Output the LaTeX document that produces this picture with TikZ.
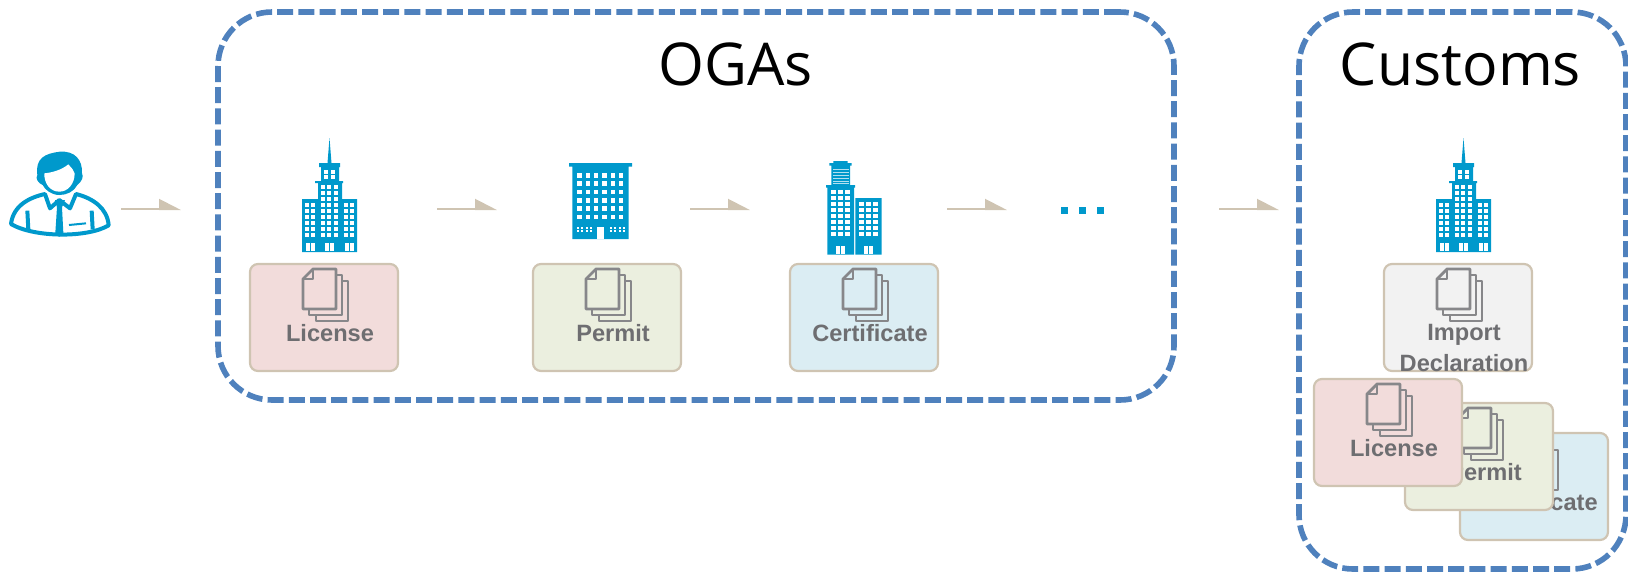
\documentclass[tikz,border=0pt]{standalone}
\usepackage{fontspec}
\usepackage{xcolor}
\usepackage{tikz}
\usetikzlibrary{arrows.meta}
\newfontfamily\titlefont{Open Sans}
\newfontfamily\cardfont{Liberation Sans}
\definecolor{groupblue}{HTML}{4F81BD}
\definecolor{iconblue}{HTML}{0099CC}
\definecolor{flowtan}{HTML}{CFC4B2}
\definecolor{docgray}{HTML}{87878A}
\definecolor{cardtextgray}{HTML}{6E6E71}
\definecolor{licensefill}{HTML}{F2DCDB}
\definecolor{permitfill}{HTML}{EBEFDF}
\definecolor{certfill}{HTML}{DBEDF3}
\definecolor{importfill}{HTML}{F2F2F2}
\tikzset{
  x=0.5pt,y=-0.5pt,
  groupbox/.style={draw=groupblue,line width=2.8pt,rounded corners=27pt,dash pattern=on 8pt off 2.6pt,outer sep=0pt,inner sep=0pt},
  grouptitle/.style={anchor=base,inner sep=0pt,font=\titlefont\fontsize{29.5}{29.5}\selectfont},
  cardbox/.style={draw=flowtan,line width=1.1pt,rounded corners=4pt,minimum width=74pt,minimum height=53.5pt,outer sep=0pt,inner sep=0pt},
  cardlabel/.style={align=center,inner sep=0pt,text=cardtextgray,font=\cardfont\bfseries\fontsize{11.8}{15.2}\selectfont},
  docline/.style={draw=docgray,line width=1.4pt,line join=round},
  flowline/.style={draw=flowtan,line width=1pt,-{Triangle[left,length=10pt 0 0,width=10pt 0 0,fill=flowtan]}},
  tower/.pic={
    \fill[iconblue] (25.5,25) -- (27.5,0) -- (29.5,25) -- cycle;
    \fill[iconblue] (17,25) rectangle (38,29) (19,29) rectangle (37,43) (13,43) rectangle (41,45)
      (16,45) rectangle (40,61) (0,61) rectangle (55,114);
    \foreach \wx in {24,30.7} \foreach \wy in {33.7,39.3} \fill[white] (\wx-2,\wy-2) rectangle ++(4,4);
    \foreach \wx in {20.7,27.3,33.7} \foreach \wy in {48.7,54.7,60.7} \fill[white] (\wx-2,\wy-2) rectangle ++(4,4);
    \foreach \wx in {4.7,10.7,20.7,27.3,33.7,43.7,50} \foreach \wy in {67,73,79,85,91,97} \fill[white] (\wx-2,\wy-2) rectangle ++(4,4);
    \foreach \wx in {4,23,43} {
      \fill[white] (\wx,105) rectangle ++(3.5,8);
      \fill[white] (\wx+5,105) rectangle ++(3.5,8);
    }
  },
  blockhouse/.pic={
    \fill[iconblue] (0,0) rectangle (63,3.5) (3.3,3.5) rectangle (59.7,76);
    \foreach \wx in {10.3,19,27,35.7,44,52} \foreach \wy in {12.3,20.7,29,37.3,45.7,54} \fill[white] (\wx-2.3,\wy-2.3) rectangle ++(4.6,4.6);
    \foreach \wx in {9,12.5,18,21.5,42,45.5,51,54.5} \foreach \wy in {64.7,68} \fill[white] (\wx-1,\wy-1) rectangle ++(2,2);
    \fill[white] (27.7,64) rectangle (35,75.5);
  },
  twintower/.pic={
    \fill[iconblue] (7.3,0) rectangle (21.7,2) (3.3,2) rectangle (25.7,4.5) (5.3,4.5) rectangle (24,24)
      (0,24) rectangle (29,26.5) (1.3,26.5) rectangle (28,93.5) (29.3,37) rectangle (55.7,93.5);
    \foreach \wy in {7.5,10.5,13.5,16.5,19.5,22} \fill[white!70!iconblue] (7,\wy) rectangle (22.5,\wy+1);
    \foreach \wx in {7.3,14.3,21.3} \foreach \wy in {31,36.7,42.7,48.7,54.7,60.7,66.7,72.7} \fill[white] (\wx-2.3,\wy-2) rectangle ++(4.6,4);
    \foreach \wx in {35.7,42.7,49.7} \foreach \wy in {42.7,48.7,54.7,60.7,66.7,72.7} \fill[white] (\wx-2.3,\wy-2) rectangle ++(4.6,4);
    \foreach \wx in {10,38} {
      \fill[white] (\wx,84.5) rectangle ++(4,8);
      \fill[white] (\wx+5,84.5) rectangle ++(4,8);
    }
  },
}
\newcommand{\doccard}[5]{
  \node[cardbox,fill=#4] (#1) at (#2+74,#3+53.5) {};
  \begin{scope}[shift={(#1.north west)}]
    \draw[docline,fill=#4] (66,17) rectangle (98,57);
    \draw[docline,fill=#4] (59,11) rectangle (92,51);
    \draw[docline,fill=#4] (53,15) -- (63,5) -- (86,5) -- (86,45) -- (53,45) -- cycle;
    \draw[docline] (63,5) -- (63,15) -- (53,15);
    \node[cardlabel,anchor=north] (#1text) at (80,60) {#5};
  \end{scope}
}

\begin{document}
\begin{tikzpicture}
\useasboundingbox (0,0) rectangle (1628,574);
% groups
\node[groupbox,minimum width=478pt,minimum height=194pt] (ogas) at (696,206) {};
\node[groupbox,minimum width=163.5pt,minimum height=278.5pt] (customs) at (1462.5,290.5) {};
\node[grouptitle] (ogastitle) at (735.5,85) {OGAs};
\node[grouptitle] (customstitle) at (1460.5,85) {Customs};
% trader
\begin{scope}[shift={(0,120)},x=0.16667pt,y=-0.16667pt]
  \draw[iconblue,line width=2pt,line join=round] (135,222) .. controls (90,232) and (40,255) .. (33,312)
    .. controls (100,352) and (260,355) .. (326,316) .. controls (322,265) and (280,235) .. (228,222)
    -- (210,265) -- (178,240) -- (150,265) -- cycle;
  \draw[iconblue,line width=2pt] (82,272) -- (85,328) (275,272) -- (278,328);
  \draw[iconblue,line width=1pt] (207,315) -- (258,310);
  \fill[iconblue] (165,240) -- (195,240) -- (186,262) -- (190,338) -- (178,350) -- (166,338) -- (171,262) -- cycle;
  \fill[iconblue] (112,165) .. controls (105,115) and (135,100) .. (180,95) .. controls (225,92) and (248,120) .. (246,160)
    .. controls (252,170) and (245,185) .. (232,195) .. controls (222,215) and (200,225) .. (178,225)
    .. controls (155,225) and (135,210) .. (128,195) .. controls (115,190) and (105,175) .. (112,165) -- cycle;
  \fill[white] (133,160) .. controls (155,158) and (185,150) .. (205,133) .. controls (215,145) and (222,150) .. (224,160)
    .. controls (224,190) and (205,215) .. (178,215) .. controls (150,215) and (132,190) .. (133,160) -- cycle;
\end{scope}
% buildings
\pic at (302,138) {tower};
\pic at (569,163) {blockhouse};
\pic at (826,161) {twintower};
\pic at (1436,138) {tower};
\foreach \n/\x in {1/1061,2/1079,3/1097}
  \fill[iconblue] (\x,207) rectangle ++(7,7);
% flow
\foreach \n/\x in {1/121,2/437,3/690,4/947,5/1219} {
  \coordinate (start\n) at (\x,209);
  \coordinate (end\n) at (\x+60,209);
  \draw[flowline] (start\n) -- (end\n);
}
% cards
\doccard{license}{250}{264}{licensefill}{License}
\doccard{permit}{533}{264}{permitfill}{Permit}
\doccard{certificate}{790}{264}{certfill}{Certificate}
\doccard{importdecl}{1384}{264}{importfill}{Import\\Declaration}
%
\doccard{certificatecopy}{1460}{433}{certfill}{Certificate}
\doccard{permitcopy}{1405}{403}{permitfill}{Permit}
\doccard{licensecopy}{1314}{379}{licensefill}{License}
\end{tikzpicture}
\end{document}
